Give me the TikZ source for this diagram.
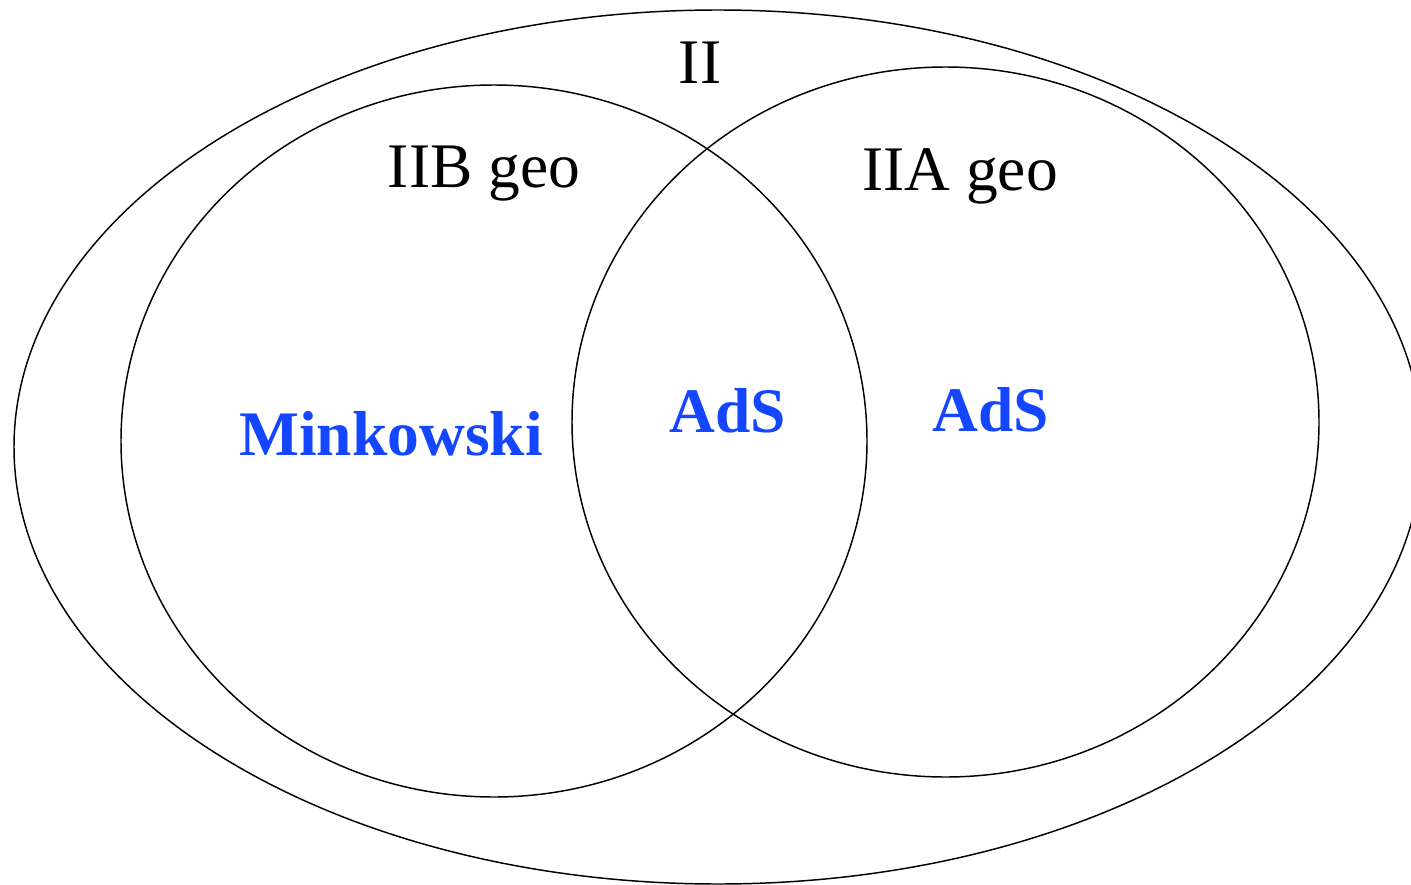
\documentclass[tikz,border=0pt]{standalone}
\usepackage{fontspec}
\setmainfont{Liberation Serif}
\usetikzlibrary{shapes.geometric}
\definecolor{labelblue}{RGB}{20,70,255}
\begin{document}
\begin{tikzpicture}[x=0.75pt,y=-0.75pt,
  set/.style={draw=black,line width=1.1pt,shape=ellipse,inner sep=0pt,outer sep=0pt},
  lbl/.style={anchor=base,inner sep=0pt,font=\fontsize{47.6}{57}\selectfont},
  blbl/.style={lbl,text=labelblue,font=\fontsize{47.6}{57}\selectfont\bfseries}]
\useasboundingbox (0,0) rectangle (1411,885);
\node[set,minimum width=1056pt,minimum height=655.5pt] (II) at (718,447) {};
\node[set,minimum width=559.5pt,minimum height=534pt] (IIB) at (494,441) {};
\node[set,minimum width=560.25pt,minimum height=532.5pt] (IIA) at (945.5,422) {};
\node[lbl] (tII) at (700,83) {II};
\node[lbl] (tIIB) at (484,187) {IIB geo};
\node[lbl] (tIIA) at (960,190) {IIA geo};
\node[blbl] (mink) at (391,455) {Minkowski};
\node[blbl] (ads1) at (728,432) {AdS};
\node[blbl] (ads2) at (991,431) {AdS};
\end{tikzpicture}
\end{document}
